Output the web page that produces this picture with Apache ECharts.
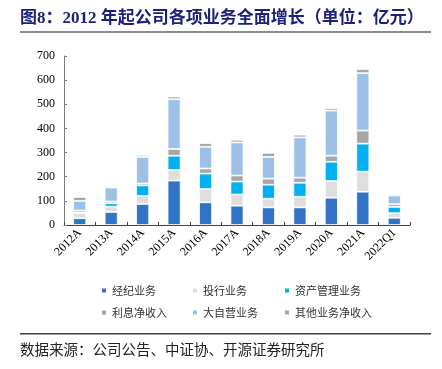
<!DOCTYPE html>
<html>
<head>
<meta charset="utf-8">
<script src="https://cdn.jsdelivr.net/npm/echarts@6/dist/echarts.min.js"></script>
<style>html,body{margin:0;padding:0;background:#fff;}#c{width:442px;height:369px;}</style>
</head>
<body>
<div id="c"></div>
<script>
var categories = ['2012A','2013A','2014A','2015A','2016A','2017A','2018A','2019A','2020A','2021A','2022Q1'];
var brokerage   = [28, 54, 87, 184, 94, 80, 73, 73, 113, 138, 30];
var ibanking    = [21, 22, 33, 44, 55, 46, 36, 44, 69, 83, 19];
var assetMgmt   = [3, 14, 44, 59, 64, 54, 58, 58, 80, 116, 26];
var interest    = [8, 7, 8, 28, 21, 25, 25, 21, 25, 54, 11];
var proprietary = [40, 58, 110, 206, 90, 137, 90, 167, 187, 238, 36];
var other       = [16, 6, 8, 11, 15, 11, 17, 11, 10, 17, 6];
var seriesNames = ['经纪业务','投行业务','资产管理业务','利息净收入','大自营业务','其他业务净收入'];
var yTicks = [0, 100, 200, 300, 400, 500, 600, 700];

var colors = ['#3173c6', '#dedede', '#00b0f0', '#a6a6a6', '#9dc0e7', '#a6a6a6'];
var dataSets = [brokerage, ibanking, assetMgmt, interest, proprietary, other];

var chart = echarts.init(document.getElementById('c'));
var series = seriesNames.map(function (n, i) {
  return {
    name: n, type: 'bar', stack: 'total', barWidth: 13,
    data: dataSets[i],
    itemStyle: { color: colors[i], borderColor: '#ffffff', borderWidth: 0.8 }
  };
});
var legendPos = [[95, 280], [186, 280], [278, 280], [95, 302], [186, 302], [278, 302]];
var legends = seriesNames.map(function (n, i) {
  return {
    data: [n], left: legendPos[i][0], top: legendPos[i][1],
    icon: 'rect', itemWidth: 6, itemHeight: 6, itemGap: 5, selectedMode: false,
    textStyle: { fontFamily: 'Noto Sans CJK SC', fontSize: 11, color: '#333' }
  };
});
chart.setOption({
  animation: false,
  backgroundColor: '#fff',
  grid: { left: 64, right: 32, top: 56, bottom: 144 },
  legend: legends,
  xAxis: {
    type: 'category', data: categories,
    axisLine: { lineStyle: { color: '#404040', width: 1 } },
    axisTick: { show: true, inside: true, length: 3, lineStyle: { color: '#404040' } },
    axisLabel: { rotate: 45, margin: 6, fontFamily: 'Liberation Serif', fontSize: 12, color: '#000' }
  },
  yAxis: {
    type: 'value', min: yTicks[0], max: yTicks[yTicks.length - 1], interval: 100,
    splitLine: { show: false },
    axisLine: { show: true, lineStyle: { color: '#7f7f7f', width: 1 } },
    axisTick: { show: true, inside: true, length: 3, lineStyle: { color: '#7f7f7f' } },
    axisLabel: { margin: 9, fontFamily: 'Liberation Serif', fontSize: 12, color: '#000' }
  },
  series: series,
  graphic: [
    { type: 'text', left: 20, top: 10, style: { text: '图8：2012 年起公司各项业务全面增长（单位：亿元）', fontFamily: 'Liberation Serif, Noto Sans CJK SC', fontWeight: 'bold', fontSize: 17, fill: '#1a2378' } },
    { type: 'rect', shape: { x: 20, y: 31, width: 411, height: 2 }, style: { fill: '#8c8c8c' } },
    { type: 'rect', shape: { x: 20, y: 333, width: 411, height: 1.5 }, style: { fill: '#404040' } },
    { type: 'text', left: 20, top: 342, style: { text: '数据来源：公司公告、中证协、开源证券研究所', fontFamily: 'Noto Sans CJK SC', fontSize: 14.5, fill: '#222' } }
  ]
});
</script>
</body>
</html>
